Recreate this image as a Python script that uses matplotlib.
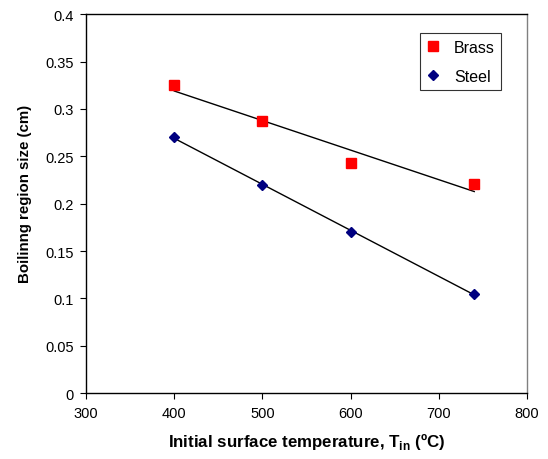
import numpy as np
import matplotlib
matplotlib.use('Agg')
import matplotlib.pyplot as plt

plt.rcParams['font.family'] = 'Liberation Sans'
plt.rcParams['mathtext.fontset'] = 'custom'
plt.rcParams['mathtext.rm'] = 'Liberation Sans:bold'
plt.rcParams['mathtext.bf'] = 'Liberation Sans:bold'

temp_brass = [400, 500, 600, 740]
size_brass = [0.325, 0.287, 0.243, 0.221]

temp_steel = [400, 500, 600, 740]
size_steel = [0.270, 0.220, 0.170, 0.105]

x_ticks = [300, 400, 500, 600, 700, 800]
y_ticks = [0, 0.05, 0.1, 0.15, 0.2, 0.25, 0.3, 0.35, 0.4]
y_tick_labels = ['0', '0.05', '0.1', '0.15', '0.2', '0.25', '0.3', '0.35', '0.4']

fig = plt.figure(figsize=(5.48, 4.6), dpi=100)
ax = fig.add_axes([0.157, 0.143, 0.805, 0.824])

ax.plot(temp_brass, size_brass, linestyle='none', marker='s',
        markersize=6.5, color='#ff0000', label='Brass', zorder=3)
ax.plot(temp_steel, size_steel, linestyle='none', marker='D',
        markersize=5.5, color='#000080', label='Steel', zorder=3)

# linear trend lines over the data range
for tx, ty in [(temp_brass, size_brass), (temp_steel, size_steel)]:
    k, b = np.polyfit(tx, ty, 1)
    xs = np.array([min(tx), max(tx)])
    ax.plot(xs, k * xs + b, color='black', linewidth=1.0, zorder=2)

ax.set_xlim(300, 800)
ax.set_ylim(0, 0.4)
ax.set_xticks(x_ticks)
ax.set_yticks(y_ticks)
ax.set_yticklabels(y_tick_labels)

ax.tick_params(axis='both', labelsize=10.5, direction='out', length=4,
               width=0.8, pad=5)

for side in ['left', 'bottom', 'top']:
    ax.spines[side].set_color('black')
    ax.spines[side].set_linewidth(1.0)
ax.spines['right'].set_color('#808080')
ax.spines['right'].set_linewidth(1.0)

ax.set_ylabel('Boilinng region size (cm)', fontsize=10.8, fontweight='bold')
ax.yaxis.set_label_coords(-0.122, 0.528)
ax.set_xlabel(r'Initial surface temperature, T$_{\mathbf{in}}$ (ºC)',
              fontsize=12.2, fontweight='bold', labelpad=8)

leg = ax.legend(loc='upper right', bbox_to_anchor=(0.941, 0.95),
                fontsize=11.5, frameon=True, fancybox=False,
                edgecolor='black', handletextpad=0.9, borderpad=0.4,
                labelspacing=0.9, handlelength=0.8, borderaxespad=0)
leg.get_frame().set_linewidth(0.8)

fig.savefig('out.png', dpi=100, facecolor='white')
